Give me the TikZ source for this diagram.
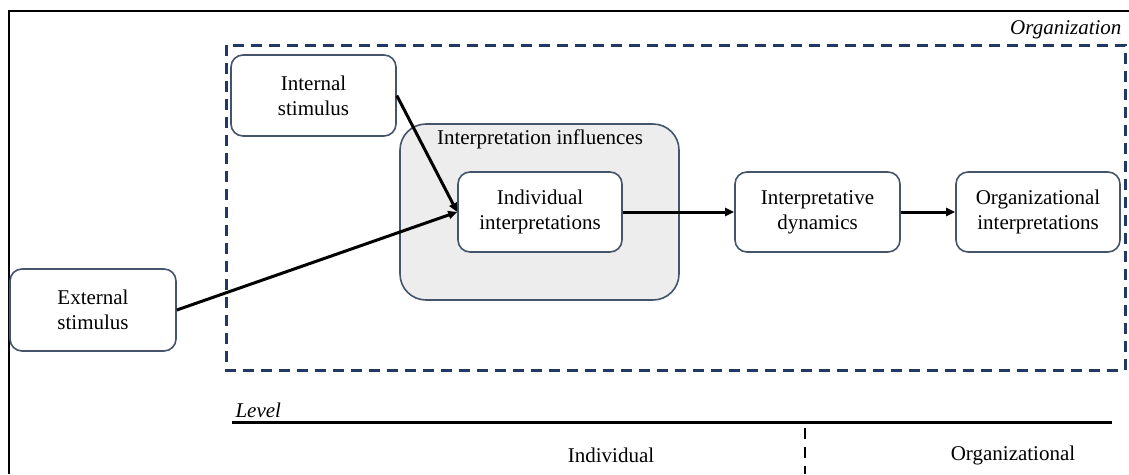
\documentclass[tikz,border=0pt]{standalone}
\usepackage{fontspec}
\setmainfont{Liberation Serif}
\usetikzlibrary{arrows.meta}
\definecolor{boxline}{HTML}{44546A}
\definecolor{navy}{HTML}{1F3864}
\definecolor{infl}{HTML}{EDEDED}
\begin{document}
\begin{tikzpicture}[x=1pt,y=-1pt,
  txt/.style={font=\fontsize{21}{25}\selectfont},
  box/.style={txt,draw=boxline,line width=1.6pt,rounded corners=12pt,fill=white,align=center,inner sep=0pt},
  conn/.style={line width=3pt,-{Triangle[length=9pt,width=8pt]}},
  orgdash/.style={draw=navy,line width=3pt,dash pattern=on 11pt off 7pt}
]
\useasboundingbox (0,0) rectangle (1129,474);
% frame
\draw[line width=2.6pt] (9,474) -- (9,11) -- (1129,11);
% organization dashed region
\draw[orgdash] (226,45) rectangle (1125,370);
\node[txt,font=\fontsize{21}{25}\selectfont\itshape,anchor=east] (orglab) at (1125,30) {Organization};
% influences box
\node[draw=boxline,line width=1.6pt,rounded corners=26pt,fill=infl,minimum width=279pt,minimum height=176pt] (infl) at (539.5,212) {};
\node[txt] (infllab) at (540,139) {Interpretation influences};
% boxes
\node[box,minimum width=165pt,minimum height=81pt] (internal) at (313.5,95.5) {Internal\\stimulus};
\node[box,minimum width=166pt,minimum height=82pt] (external) at (93,310) {External\\stimulus};
\node[box,minimum width=164pt,minimum height=80pt] (indiv) at (540,212) {Individual\\interpretations};
\node[box,minimum width=165pt,minimum height=80pt] (dyn) at (817.5,212) {Interpretative\\dynamics};
\node[box,minimum width=164pt,minimum height=80pt] (orgint) at (1038,212) {Organizational\\interpretations};
% connectors
\draw[conn] (internal.east) -- (indiv.west);
\draw[conn] (external.east) -- (indiv.west);
\draw[conn] (indiv.east) -- (dyn.west);
\draw[conn] (dyn.east) -- (orgint.west);
% level axis
\node[txt,font=\fontsize{21}{25}\selectfont\itshape,anchor=west] (levellab) at (232,410) {Level};
\coordinate (ls) at (232,422);
\coordinate (le) at (1112,422);
\draw[line width=3pt] (ls) -- (le);
\coordinate (ds) at (805,428);
\coordinate (de) at (805,474);
\draw[line width=2pt,dash pattern=on 11pt off 8pt] (ds) -- (de);
\node[txt] (lvind) at (611,455) {Individual};
\node[txt] (lvorg) at (1013,455) {Organizational};
\end{tikzpicture}
\end{document}
